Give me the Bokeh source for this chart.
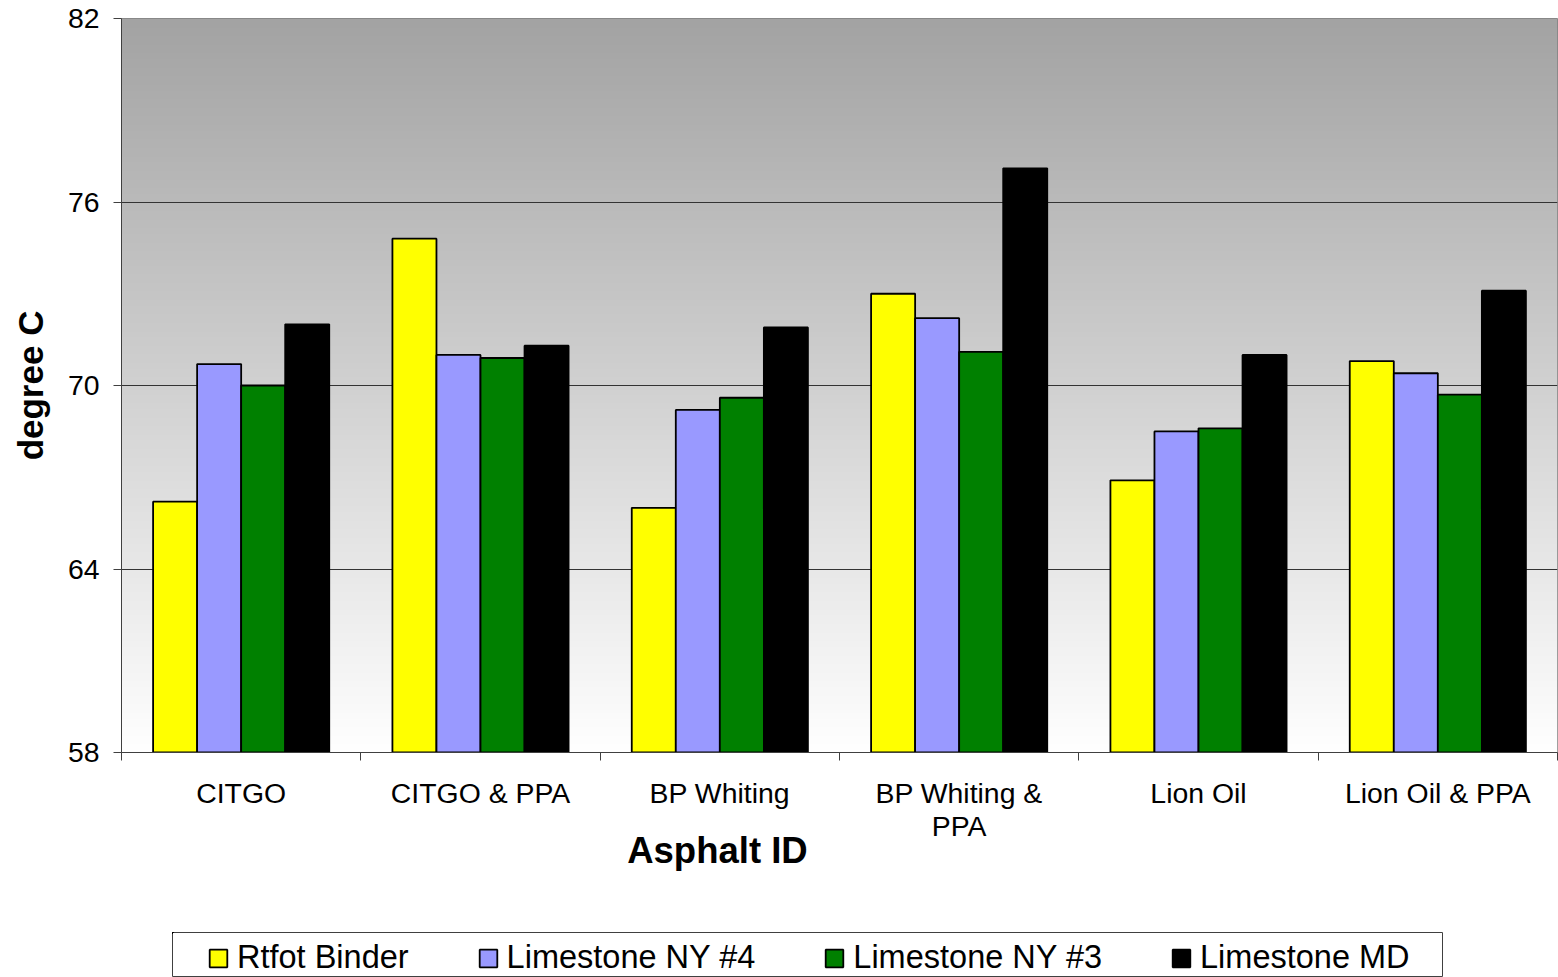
import numpy as np
from bokeh.plotting import figure
from bokeh.layouts import column, row
from bokeh.models import (ColumnDataSource, FixedTicker, Legend, LegendItem,
                          Range1d, LinearAxis, Spacer)
from bokeh.embed import file_html
from bokeh.resources import INLINE

categories = ["CITGO", "CITGO & PPA", "BP Whiting", "BP Whiting &\nPPA",
              "Lion Oil", "Lion Oil & PPA"]
series_names = ["Rtfot Binder", "Limestone NY #4", "Limestone NY #3", "Limestone MD"]
rtfot_binder = [66.2, 74.8, 66.0, 73.0, 66.9, 70.8]
limestone_ny4 = [70.7, 71.0, 69.2, 72.2, 68.5, 70.4]
limestone_ny3 = [70.0, 70.9, 69.6, 71.1, 68.6, 69.7]
limestone_md = [72.0, 71.3, 71.9, 77.1, 71.0, 73.1]
y_ticks = [58, 64, 70, 76, 82]
colors = ["#FFFF00", "#9999FF", "#008000", "#000000"]

FONT = "Liberation Sans"
n = len(categories)
series = [rtfot_binder, limestone_ny4, limestone_ny3, limestone_md]
bar_w = 0.184
offsets = [-1.5 * bar_w, -0.5 * bar_w, 0.5 * bar_w, 1.5 * bar_w]

p = figure(width=1558, height=932, x_range=Range1d(0, n), y_range=Range1d(58, 82),
           output_backend="svg", toolbar_location=None,
           min_border_left=121, min_border_top=18, min_border_right=1,
           min_border_bottom=180)
p.background_fill_color = "white"
p.border_fill_color = "white"
p.outline_line_color = "#808080"
p.outline_line_width = 1

# background gradient (style only)
M = 256
g = np.linspace(255, 163, M).astype(np.uint32)  # row 0 = bottom
img = np.zeros((M, 1), dtype=np.uint32)
view = img.view(dtype=np.uint8).reshape((M, 1, 4))
view[:, 0, 0] = g
view[:, 0, 1] = g
view[:, 0, 2] = g
view[:, 0, 3] = 255
p.image_rgba(image=[img], x=0, y=58, dw=n, dh=24, level="image")

sources = []
for name, vals, off, col in zip(series_names, series, offsets, colors):
    src = ColumnDataSource(dict(x=[i + 0.5 + off for i in range(n)], top=vals))
    sources.append(src)
    p.vbar(x="x", top="top", bottom=58, width=bar_w, source=src,
           fill_color=col, line_color="black", line_width=1.8)

# grid
p.xgrid.visible = False
p.ygrid.ticker = FixedTicker(ticks=y_ticks)
p.ygrid.grid_line_color = "#333333"
p.ygrid.grid_line_width = 1

# y axis
p.yaxis.ticker = FixedTicker(ticks=y_ticks)
p.yaxis.major_tick_out = 8
p.yaxis.major_tick_in = 0
p.yaxis.minor_tick_out = 0
p.yaxis.minor_tick_in = 0
p.yaxis.axis_line_color = "#404040"
p.yaxis.major_tick_line_color = "#404040"
p.yaxis.major_label_text_font = FONT
p.yaxis.major_label_text_font_size = "28.4px"
p.yaxis.major_label_text_color = "black"
p.yaxis.major_label_standoff = 14
p.yaxis.axis_label = "degree C"
p.yaxis.axis_label_text_font = FONT
p.yaxis.axis_label_text_font_size = "35px"
p.yaxis.axis_label_text_font_style = "bold"
p.yaxis.axis_label_text_color = "black"
p.yaxis.axis_label_standoff = 15

# x axis (category labels at centres, ticks at group boundaries)
centers = [i + 0.5 for i in range(n)]
xax = p.xaxis[0]
xax.ticker = FixedTicker(ticks=centers, minor_ticks=list(range(n + 1)))
xax.major_label_overrides = {c: lab for c, lab in zip(centers, categories)}
xax.major_tick_out = 0
xax.major_tick_in = 0
xax.minor_tick_out = 8
xax.minor_tick_in = 0
xax.axis_line_color = "#404040"
xax.minor_tick_line_color = "#404040"
xax.major_label_text_font = FONT
xax.major_label_text_font_size = "28.4px"
xax.major_label_text_color = "black"
xax.major_label_text_line_height = 1.05
xax.major_label_standoff = 16

# x axis title, as a single labelled position below the category labels
title_x = 2.49
title_axis = LinearAxis(ticker=FixedTicker(ticks=[title_x], minor_ticks=[]),
                        major_label_overrides={title_x: "Asphalt ID"},
                        axis_line_color=None, major_tick_line_color=None,
                        minor_tick_line_color=None, major_tick_out=0,
                        major_tick_in=0, major_label_standoff=-16,
                        major_label_text_font=FONT,
                        major_label_text_font_size="36.5px",
                        major_label_text_font_style="bold",
                        major_label_text_color="black")
p.add_layout(title_axis, "below")

# legend strip below the chart (proxy bars fall outside its ranges)
lg = figure(width=1271, height=45, x_range=Range1d(100, 101), y_range=Range1d(0, 1),
            output_backend="svg", toolbar_location=None,
            min_border=0, min_border_left=0, min_border_right=0,
            min_border_top=0, min_border_bottom=0)
lg.axis.visible = False
lg.grid.visible = False
lg.outline_line_color = "#404040"
lg.outline_line_width = 1
lg.background_fill_color = "white"
lg.border_fill_color = "white"
items = []
for name, col, src in zip(series_names, colors, sources):
    r = lg.vbar(x="x", top="top", bottom=58, width=bar_w, source=src,
                fill_color=col, line_color="black", line_width=1.8)
    items.append(LegendItem(label=name, renderers=[r]))
legend = Legend(items=items, orientation="horizontal", location=(35, 1),
                label_text_font=FONT, label_text_font_size="32.5px",
                label_text_color="black", glyph_width=22, glyph_height=22,
                label_standoff=8, spacing=68, padding=0, margin=0,
                border_line_color=None, background_fill_alpha=0.0)
lg.add_layout(legend)

layout = column(p, row(Spacer(width=172, height=45), lg, spacing=0), spacing=0)

open("out.html", "w").write(file_html(layout, INLINE))
